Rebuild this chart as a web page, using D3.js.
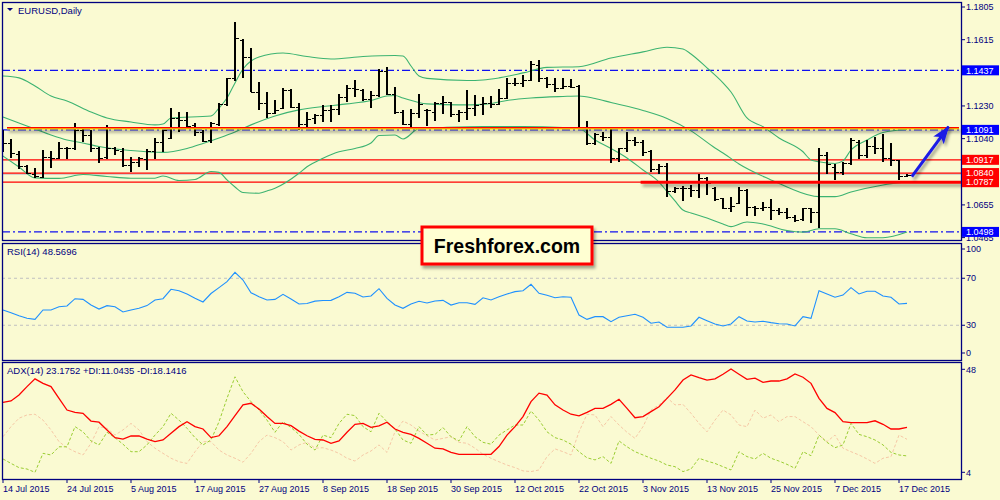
<!DOCTYPE html>
<html>
<head>
<meta charset="utf-8">
<script src="https://d3js.org/d3.v7.min.js"></script>
<style>
  body { margin: 0; background: #FAFAD2; }
  svg { display: block; font-family: Tahoma, "Liberation Sans", Arial, sans-serif; }
</style>
</head>
<body>
<div id="chart"></div>
<script>
// EURUSD daily bars, 14 Jul 2015 .. 18 Dec 2015 (index 0..113)
var open = [1.1044,1.1015,1.0951,1.0881,1.0835,1.0817,1.0934,1.0928,1.0986,1.0986,
  1.1090,1.1061,1.0986,1.0934,1.0986,1.0968,1.0887,1.0905,1.0922,1.0968,
  1.1021,1.1044,1.1160,1.1149,1.1120,1.1079,1.1032,1.1125,1.1242,1.1393,
  1.1612,1.1516,1.1313,1.1245,1.1187,1.1216,1.1323,1.1226,1.1124,1.1158,
  1.1178,1.1207,1.1212,1.1284,1.1336,1.1323,1.1271,1.1294,1.1433,1.1298,
  1.1197,1.1124,1.1187,1.1207,1.1197,1.1245,1.1251,1.1182,1.1193,1.1220,
  1.1240,1.1245,1.1240,1.1278,1.1362,1.1362,1.1381,1.1468,1.1391,1.1356,
  1.1333,1.1348,1.1348,1.1102,1.1013,1.1057,1.1052,1.0926,1.0988,1.1032,
  1.1020,1.0968,1.0864,1.0883,1.0736,1.0752,1.0752,1.0742,1.0813,1.0752,
  1.0694,1.0639,1.0665,1.0742,1.0645,1.0639,1.0645,1.0626,1.0612,1.0587,
  1.0573,1.0635,1.0616,1.0945,1.0877,1.0848,1.0897,1.1022,1.0945,1.0999,
  1.0984,1.0930,1.0916,1.0825];
var high = [1.1090,1.1038,1.0968,1.0887,1.0870,1.0974,1.0968,1.1021,1.0992,1.1131,
  1.1102,1.1090,1.0990,1.1120,1.0992,1.0986,1.0934,1.0934,1.0980,1.1044,
  1.1090,1.1218,1.1195,1.1195,1.1131,1.1090,1.1137,1.1247,1.1393,1.1718,
  1.1619,1.1565,1.1371,1.1309,1.1265,1.1333,1.1328,1.1245,1.1193,1.1182,
  1.1236,1.1236,1.1298,1.1352,1.1381,1.1327,1.1317,1.1445,1.1458,1.1342,
  1.1207,1.1212,1.1298,1.1212,1.1251,1.1290,1.1255,1.1207,1.1323,1.1294,
  1.1284,1.1290,1.1329,1.1391,1.1391,1.1410,1.1491,1.1497,1.1400,1.1391,
  1.1391,1.1387,1.1352,1.1143,1.1071,1.1081,1.1104,1.0988,1.1077,1.1052,
  1.1032,1.0974,1.0891,1.0897,1.0761,1.0767,1.0771,1.0833,1.0819,1.0761,
  1.0697,1.0703,1.0761,1.0746,1.0651,1.0670,1.0690,1.0635,1.0639,1.0597,
  1.0639,1.0639,1.0984,1.0961,1.0891,1.0906,1.1046,1.1032,1.1032,1.1052,
  1.1065,1.1013,1.0916,1.0833];
var low = [1.0963,1.0928,1.0864,1.0835,1.0812,1.0812,1.0870,1.0922,1.0922,1.0974,
  1.1021,1.0963,1.0899,1.0922,1.0945,1.0875,1.0846,1.0875,1.0858,1.0922,
  1.0963,1.1038,1.1079,1.1102,1.1056,1.1021,1.1015,1.1114,1.1230,1.1375,
  1.1394,1.1310,1.1207,1.1158,1.1182,1.1212,1.1220,1.1090,1.1096,1.1124,
  1.1135,1.1135,1.1178,1.1255,1.1284,1.1259,1.1216,1.1284,1.1294,1.1182,
  1.1120,1.1110,1.1162,1.1115,1.1143,1.1182,1.1168,1.1135,1.1149,1.1174,
  1.1178,1.1216,1.1236,1.1271,1.1348,1.1342,1.1375,1.1367,1.1336,1.1309,
  1.1329,1.1336,1.1096,1.1003,1.1003,1.1027,1.0897,1.0903,1.0964,1.0999,
  1.0941,1.0848,1.0833,1.0703,1.0723,1.0678,1.0703,1.0694,1.0713,1.0678,
  1.0631,1.0616,1.0659,1.0593,1.0593,1.0620,1.0568,1.0597,1.0573,1.0558,
  1.0562,1.0548,1.0523,1.0833,1.0800,1.0829,1.0887,1.0922,1.0926,1.0949,
  1.0906,1.0883,1.0800,1.0819];
var close = [1.1015,1.0955,1.0881,1.0841,1.0823,1.0934,1.0928,1.0986,1.0983,1.1090,
  1.1061,1.0986,1.0928,1.0986,1.0974,1.0887,1.0905,1.0928,1.0968,1.1021,
  1.1090,1.1160,1.1149,1.1114,1.1079,1.1027,1.1131,1.1242,1.1393,1.1625,
  1.1516,1.1313,1.1245,1.1187,1.1207,1.1323,1.1226,1.1124,1.1154,1.1178,
  1.1207,1.1212,1.1284,1.1336,1.1329,1.1271,1.1294,1.1433,1.1298,1.1193,
  1.1124,1.1187,1.1240,1.1207,1.1245,1.1251,1.1182,1.1193,1.1220,1.1236,
  1.1245,1.1240,1.1278,1.1362,1.1362,1.1381,1.1472,1.1391,1.1356,1.1333,
  1.1348,1.1342,1.1102,1.1015,1.1065,1.1052,1.0926,1.0988,1.1032,1.1020,
  1.0964,1.0864,1.0883,1.0736,1.0752,1.0755,1.0742,1.0810,1.0781,1.0690,
  1.0639,1.0651,1.0742,1.0645,1.0639,1.0645,1.0626,1.0612,1.0587,1.0568,
  1.0635,1.0616,1.0945,1.0891,1.0848,1.0897,1.1032,1.0945,1.0999,1.0984,
  1.0930,1.0916,1.0825,1.0829];

// Bollinger bands as [bar index, price]
var bbUpper = [[0,1.1404],[2,1.1393],[4,1.1346],[6,1.1288],[8,1.1259],[11,1.1195],[13,1.1160],
  [16,1.1137],[19,1.1120],[20,1.1125],[21,1.1160],[26,1.1172],[27,1.1218],[28,1.1276],[29,1.1364],
  [30,1.1445],[31,1.1491],[32,1.1515],[35,1.1538],[38,1.1517],[41,1.1503],[45,1.1517],[49,1.1523],
  [50,1.1520],[51,1.1462],[52,1.1404],[53,1.1390],[58,1.1378],[60,1.1381],[62,1.1393],[65,1.1422],
  [68,1.1454],[72,1.1458],[76,1.1509],[80,1.1544],[83,1.1571],[85,1.1561],[86,1.1532],[88,1.1451],
  [90,1.1364],[91,1.1311],[93,1.1160],[95,1.1110],[97,1.1044],[100,1.0964],[101,1.0916],[102,1.0906],
  [104,1.0896],[105,1.0911],[106,1.0974],[108,1.1032],[110,1.1076],[113,1.1093]];
var bbMiddle = [[0,1.1166],[4,1.1096],[6,1.1061],[8,1.1032],[10,1.1015],[12,1.0994],[16,1.0971],
  [20,1.0960],[23,1.0983],[25,1.1012],[27,1.1044],[29,1.1079],[31,1.1120],[34,1.1172],[37,1.1207],
  [40,1.1227],[43,1.1242],[46,1.1262],[48,1.1288],[49,1.1291],[50,1.1276],[53,1.1242],[57,1.1236],
  [60,1.1239],[63,1.1262],[66,1.1276],[70,1.1285],[72,1.1288],[74,1.1273],[76,1.1250],[80,1.1204],
  [83,1.1157],[86,1.1085],[89,1.0986],[90,1.0957],[92,1.0893],[96,1.0800],[98,1.0759],[102,1.0703],
  [104,1.0703],[106,1.0730],[110,1.0771],[113,1.0790]];
var bbLower = [[0,1.0939],[2,1.0875],[4,1.0812],[7,1.0809],[10,1.0832],[13,1.0820],[16,1.0810],
  [19,1.0810],[20,1.0823],[22,1.0797],[24,1.0803],[26,1.0849],[27,1.0844],[28,1.0800],[29,1.0759],
  [30,1.0727],[32,1.0723],[33,1.0736],[34,1.0752],[37,1.0839],[38,1.0877],[40,1.0926],[42,1.0964],
  [44,1.0983],[46,1.1015],[47,1.1058],[49,1.1061],[50,1.1038],[52,1.1099],[55,1.1105],[60,1.1111],
  [65,1.1111],[70,1.1105],[72,1.1099],[74,1.1032],[76,1.0983],[78,1.0928],[80,1.0858],[82,1.0788],
  [83,1.0733],[84,1.0678],[85,1.0625],[86,1.0608],[88,1.0579],[90,1.0544],[91,1.0529],[93,1.0556],
  [95,1.0544],[98,1.0506],[100,1.0497],[102,1.0516],[104,1.0516],[106,1.0487],[108,1.0464],
  [110,1.0464],[113,1.0497]];

var rsi = [43.0,40.7,38.0,35.9,35.0,43.0,43.0,45.8,46.4,52.6,
  52.0,47.2,43.8,46.7,45.8,41.3,43.0,44.4,46.7,51.5,
  52.6,60.6,59.4,56.5,53.0,49.8,57.0,62.0,67.1,75.0,
  68.5,57.7,54.3,51.5,52.0,56.3,52.3,48.1,48.5,50.5,
  51.0,51.2,54.3,58.0,57.2,54.0,54.9,61.1,52.9,47.2,
  44.4,48.1,50.4,48.9,50.6,51.2,47.2,49.2,49.2,47.8,
  53.4,51.5,54.3,56.6,58.6,59.4,64.8,57.2,55.5,53.4,
  54.3,53.8,38.7,35.0,37.3,37.3,33.0,36.8,38.1,39.3,
  36.8,31.7,32.8,28.3,28.3,28.3,29.4,36.8,33.9,31.1,
  29.4,31.1,37.3,33.6,32.8,33.4,32.2,31.3,31.1,29.4,
  37.3,35.9,59.4,56.6,53.8,55.7,62.0,56.6,59.0,59.0,
  54.9,53.8,48.1,48.6];
var adx = [33.9,34.5,37.0,40.6,43.9,42.0,40.6,35.6,30.6,29.6,
  29.2,25.9,25.4,22.1,18.8,18.2,19.5,19.5,18.2,17.1,
  17.8,20.7,23.5,25.6,23.5,22.5,18.8,19.6,23.5,28.2,
  32.8,33.5,31.0,27.8,24.9,24.9,23.9,21.6,19.6,18.1,
  17.8,16.4,17.4,21.1,24.5,24.9,23.2,23.8,25.4,22.5,
  21.1,20.2,18.5,16.4,14.3,14.0,12.5,11.7,11.7,11.7,
  11.7,11.7,15.0,19.9,23.5,27.8,34.2,37.8,37.0,32.8,
  30.6,28.8,28.1,29.6,31.3,31.3,33.0,35.2,31.3,27.3,
  27.8,29.9,32.0,35.6,39.2,43.4,45.6,44.4,43.4,43.9,
  45.9,48.1,45.9,43.7,44.2,42.4,43.0,43.0,43.9,46.0,
  44.6,42.0,35.6,31.3,29.5,25.6,25.2,25.2,25.2,26.0,
  24.5,22.5,22.5,23.2];
var plusDI = [9.7,7.8,6.0,5.4,4.0,12.1,11.4,14.9,14.9,23.5,
  21.3,17.4,15.7,21.1,18.8,16.0,12.8,12.8,15.7,19.9,
  23.5,29.2,26.3,22.8,18.8,15.7,17.8,25.6,35.6,44.8,
  38.4,34.2,30.6,26.3,21.1,25.6,23.1,20.2,16.0,13.5,
  19.9,18.8,24.9,28.8,28.2,23.5,21.3,29.2,25.6,22.5,
  17.8,16.4,23.5,19.9,20.2,23.1,19.2,17.4,23.5,19.2,
  16.8,16.0,19.9,22.1,24.2,24.2,30.2,26.3,21.3,18.8,
  17.8,16.0,12.8,10.2,9.3,10.7,7.8,17.4,14.9,12.8,
  11.4,10.0,8.8,7.1,6.4,4.3,5.4,10.0,8.8,7.8,
  6.4,5.0,12.8,10.7,9.7,12.1,10.0,8.8,7.4,5.7,
  12.8,11.1,19.9,16.8,14.5,15.7,24.9,20.2,19.2,17.8,
  15.7,12.5,11.4,11.0];
var minusDI = [19.2,23.5,27.1,28.5,28.8,26.3,22.1,17.1,14.5,12.8,
  11.4,16.4,23.5,22.8,19.9,22.1,24.9,22.1,17.1,14.3,
  12.1,10.0,8.5,7.8,12.8,17.1,17.1,13.5,11.4,10.0,
  8.3,12.1,17.1,19.9,18.8,17.1,13.5,15.7,16.8,14.3,
  14.5,13.5,12.1,10.0,8.8,11.4,13.1,15.7,12.5,21.3,
  25.9,24.2,21.6,19.6,17.8,18.5,19.2,16.8,16.4,14.3,
  11.7,10.0,8.5,7.1,6.0,4.6,4.3,5.0,10.7,14.0,
  12.8,11.4,21.3,28.8,28.5,23.5,27.8,24.2,21.1,18.5,
  23.5,30.6,32.8,35.9,32.8,33.0,29.2,24.9,21.3,26.3,
  30.6,28.5,24.2,23.5,30.6,27.1,28.5,25.6,27.8,27.8,
  25.6,23.5,19.9,17.1,19.9,14.3,12.8,11.4,9.7,7.8,
  10.0,10.7,19.9,18.1];

var dateLabels = ["14 Jul 2015","24 Jul 2015","5 Aug 2015","17 Aug 2015","27 Aug 2015","8 Sep 2015",
  "18 Sep 2015","30 Sep 2015","12 Oct 2015","22 Oct 2015","3 Nov 2015","13 Nov 2015",
  "25 Nov 2015","7 Dec 2015","17 Dec 2015"];
var dateIndex = [0,8,16,24,32,40,48,56,64,72,80,88,96,104,112];
var priceTicks = [1.1805,1.1615,1.1425,1.1230,1.1040,1.0850,1.0655,1.0465];
var blueLevels = [1.1437,1.1091,1.0498];
var redLevels = [1.0917,1.0840,1.0787];
var bidPrice = 1.0833;
var resistRed = 1.1104, resistYellow = 1.1100;
var thickFrom = 79.7;
var arrowFrom = [113.6, 1.0819], arrowTo = [118.2, 1.1110];
var rsiTicks = [100,70,30,0], rsiLevels = [70,30];
var adxTicks = [48,4];

var W = 1000, H = 500;
var left = 2, right = 961;
var mainTop = 2, mainBot = 240, rsiTop = 243, rsiBot = 360, adxTop = 362, adxBot = 479;
var navy = "#000080";
var fmt = d3.format(".4f");

var svg = d3.select("#chart").append("svg")
  .attr("width", W).attr("height", H);
svg.append("rect").attr("width", W).attr("height", H).attr("fill", "#FAFAD2");

var defs = svg.append("defs");
var shadow = defs.append("filter").attr("id", "shadow")
  .attr("filterUnits", "userSpaceOnUse")
  .attr("x", 0).attr("y", 0).attr("width", W).attr("height", H);
shadow.append("feDropShadow").attr("dx", 2).attr("dy", 3)
  .attr("stdDeviation", 1.8).attr("flood-color", "#000").attr("flood-opacity", 0.35);

[["clipMain", mainTop, mainBot], ["clipRsi", rsiTop, rsiBot], ["clipAdx", adxTop, adxBot]]
  .forEach(function(c) {
    defs.append("clipPath").attr("id", c[0]).append("rect")
      .attr("x", left).attr("y", c[1]).attr("width", right - left).attr("height", c[2] - c[1]);
  });

//scales
var x = d3.scaleLinear().domain([0, 113]).range([3, 907]);
var yMain = d3.scaleLinear().domain([1.0465, 1.1805]).range([237.6, 7]);
var yRsi = d3.scaleLinear().domain([0, 100]).range([360.5, 243]);
var yAdx = d3.scaleLinear().domain([4, 48]).range([472.3, 369.3]);

// ---------- main panel ----------
var main = svg.append("g").attr("clip-path", "url(#clipMain)");

main.append("line")
  .attr("x1", left).attr("x2", right)
  .attr("y1", yMain(bidPrice)).attr("y2", yMain(bidPrice))
  .attr("stroke", "#C8C8C8").attr("stroke-width", 1);

main.selectAll(".blueLevel").data(blueLevels).enter().append("line")
  .attr("class", "blueLevel")
  .attr("x1", left).attr("x2", right)
  .attr("y1", function(d) { return yMain(d); })
  .attr("y2", function(d) { return yMain(d); })
  .attr("stroke", "#1010F0").attr("stroke-width", 1.2)
  .attr("stroke-dasharray", "8,3,2,3");

main.selectAll(".redLevel").data(redLevels).enter().append("line")
  .attr("class", "redLevel")
  .attr("x1", left).attr("x2", right)
  .attr("y1", function(d) { return yMain(d); })
  .attr("y2", function(d) { return yMain(d); })
  .attr("stroke", "#FF0000").attr("stroke-width", 1.2);

var band = d3.line()
  .x(function(d) { return x(d[0]); })
  .y(function(d) { return yMain(d[1]); })
  .curve(d3.curveMonotoneX);

[bbUpper, bbMiddle, bbLower].forEach(function(b) {
  main.append("path").datum(b)
    .attr("d", band)
    .attr("fill", "none")
    .attr("stroke", "#3CB371")
    .attr("stroke-width", 1.1);
});

var bars = main.append("g").attr("shape-rendering", "crispEdges");
open.forEach(function(o, i) {
  var bx = Math.round(x(i));
  bars.append("line")
    .attr("x1", bx).attr("x2", bx)
    .attr("y1", yMain(high[i])).attr("y2", yMain(low[i]))
    .attr("stroke", "#000").attr("stroke-width", 2);
  bars.append("line")
    .attr("x1", bx - 3).attr("x2", bx)
    .attr("y1", Math.round(yMain(o)) + 0.5).attr("y2", Math.round(yMain(o)) + 0.5)
    .attr("stroke", "#000").attr("stroke-width", 1);
  bars.append("line")
    .attr("x1", bx).attr("x2", bx + 4)
    .attr("y1", Math.round(yMain(close[i])) + 0.5).attr("y2", Math.round(yMain(close[i])) + 0.5)
    .attr("stroke", "#000").attr("stroke-width", 1);
});

var resist = main.append("g").attr("filter", "url(#shadow)");
resist.append("line")
  .attr("x1", left + 5).attr("x2", right - 2)
  .attr("y1", yMain(resistYellow)).attr("y2", yMain(resistYellow))
  .attr("stroke", "#F5D800").attr("stroke-width", 2.2);
resist.append("line")
  .attr("x1", left + 5).attr("x2", right - 2)
  .attr("y1", yMain(resistRed)).attr("y2", yMain(resistRed))
  .attr("stroke", "#FF0000").attr("stroke-width", 1.2);

main.append("line")
  .attr("filter", "url(#shadow)")
  .attr("x1", x(thickFrom)).attr("x2", right)
  .attr("y1", yMain(redLevels[2])).attr("y2", yMain(redLevels[2]))
  .attr("stroke", "#FF0000").attr("stroke-width", 3);

defs.append("marker").attr("id", "head")
  .attr("markerUnits", "userSpaceOnUse")
  .attr("viewBox", "0 0 18 13").attr("refX", 17).attr("refY", 6.5)
  .attr("markerWidth", 18).attr("markerHeight", 13).attr("orient", "auto")
  .append("path").attr("d", "M0,0 L18,6.5 L0,13 L4,6.5 Z").attr("fill", "#1A1AE6");

svg.append("line")
  .attr("filter", "url(#shadow)")
  .attr("x1", x(arrowFrom[0])).attr("y1", yMain(arrowFrom[1]))
  .attr("x2", x(arrowTo[0])).attr("y2", yMain(arrowTo[1]))
  .attr("stroke", "#1A1AE6").attr("stroke-width", 3)
  .attr("marker-end", "url(#head)");

// ---------- RSI panel ----------
var rsiG = svg.append("g").attr("clip-path", "url(#clipRsi)");
rsiG.selectAll(".rsiLevel").data(rsiLevels).enter().append("line")
  .attr("x1", left).attr("x2", right)
  .attr("y1", function(d) { return yRsi(d); })
  .attr("y2", function(d) { return yRsi(d); })
  .attr("stroke", "#C0C0C0").attr("stroke-dasharray", "3,3");

var idxLine = function(scale) {
  return d3.line()
    .x(function(d, i) { return x(i); })
    .y(function(d) { return scale(d); });
};

rsiG.append("path").datum(rsi)
  .attr("d", idxLine(yRsi))
  .attr("fill", "none").attr("stroke", "#1E90FF").attr("stroke-width", 1.1);

// ---------- ADX panel ----------
var adxG = svg.append("g").attr("clip-path", "url(#clipAdx)");
adxG.append("path").datum(minusDI)
  .attr("d", idxLine(yAdx))
  .attr("fill", "none").attr("stroke", "#F6C8A6").attr("stroke-width", 1)
  .attr("stroke-dasharray", "3,2");
adxG.append("path").datum(plusDI)
  .attr("d", idxLine(yAdx))
  .attr("fill", "none").attr("stroke", "#9ACD32").attr("stroke-width", 1)
  .attr("stroke-dasharray", "3,2");
adxG.append("path").datum(adx)
  .attr("d", idxLine(yAdx))
  .attr("fill", "none").attr("stroke", "#FF0000").attr("stroke-width", 1.3);

// ---------- frames & axes ----------
[[mainTop, mainBot], [rsiTop, rsiBot], [adxTop, adxBot]].forEach(function(p) {
  svg.append("rect")
    .attr("x", left + 0.5).attr("y", p[0] + 0.5)
    .attr("width", right - left).attr("height", p[1] - p[0])
    .attr("fill", "none").attr("stroke", navy).attr("stroke-width", 1.3);
});

var labels = svg.append("g").attr("fill", navy).attr("font-size", "9.5px");
var priceLabels = svg.append("g").attr("fill", navy).attr("font-size", "9px");
var boxLevels = blueLevels.concat(redLevels);

priceTicks.forEach(function(p) {
  var y = yMain(p);
  svg.append("line").attr("x1", right).attr("x2", right + 4)
    .attr("y1", y).attr("y2", y).attr("stroke", navy);
  // the tick text sits under a level box when they nearly coincide
  var covered = boxLevels.some(function(b) { return Math.abs(yMain(b) - y) < 5; });
  if (!covered) priceLabels.append("text").attr("x", right + 5).attr("y", y + 3.2).text(fmt(p));
});

rsiTicks.forEach(function(v) {
  var y = Math.max(249, Math.min(353, yRsi(v)));
  svg.append("line").attr("x1", right).attr("x2", right + 4)
    .attr("y1", y).attr("y2", y).attr("stroke", navy);
  priceLabels.append("text").attr("x", right + 5).attr("y", y + 3.2).text(v);
});

adxTicks.forEach(function(v) {
  var y = yAdx(v);
  svg.append("line").attr("x1", right).attr("x2", right + 4)
    .attr("y1", y).attr("y2", y).attr("stroke", navy);
  priceLabels.append("text").attr("x", right + 5).attr("y", y + 3.2).text(v);
});

var boxes = blueLevels.map(function(v) { return {v: v, c: "#0000FF"}; })
  .concat(redLevels.map(function(v) { return {v: v, c: "#FF0000"}; }));
boxes.forEach(function(b) {
  var y = yMain(b.v);
  svg.append("rect").attr("x", right + 1).attr("y", y - 5)
    .attr("width", 37).attr("height", 10).attr("fill", b.c);
  svg.append("text").attr("x", right + 5).attr("y", y + 3.2)
    .attr("fill", "#fff").attr("font-size", "9px").text(fmt(b.v));
});

dateIndex.forEach(function(d, k) {
  var tx = x(d);
  svg.append("line").attr("x1", tx).attr("x2", tx)
    .attr("y1", adxBot).attr("y2", adxBot + 4).attr("stroke", navy);
  labels.append("text").attr("x", tx).attr("y", 492)
    .attr("font-size", "9px").text(dateLabels[k]);
});

// titles
svg.append("path").attr("d", "M7,8 L13,8 L10,11 Z").attr("fill", navy);
labels.append("text").attr("x", 18).attr("y", 14).text("EURUSD,Daily");
labels.append("text").attr("x", 7).attr("y", 255).text("RSI(14) 48.5696");
labels.append("text").attr("x", 7).attr("y", 374).text("ADX(14) 23.1752 +DI:11.0435 -DI:18.1416");

// watermark
var wm = svg.append("g");
wm.append("rect").attr("x", 422).attr("y", 227).attr("width", 170).attr("height", 37)
  .attr("fill", "#FFFFD2").attr("stroke", "#FF0000").attr("stroke-width", 3)
  .attr("filter", "url(#shadow)");
wm.append("text").attr("x", 507).attr("y", 253).attr("text-anchor", "middle")
  .attr("font-family", "'Liberation Sans', Arial, sans-serif")
  .attr("font-weight", "bold").attr("font-size", "19.5px").attr("fill", "#000")
  .text("Freshforex.com");
</script>
</body>
</html>
